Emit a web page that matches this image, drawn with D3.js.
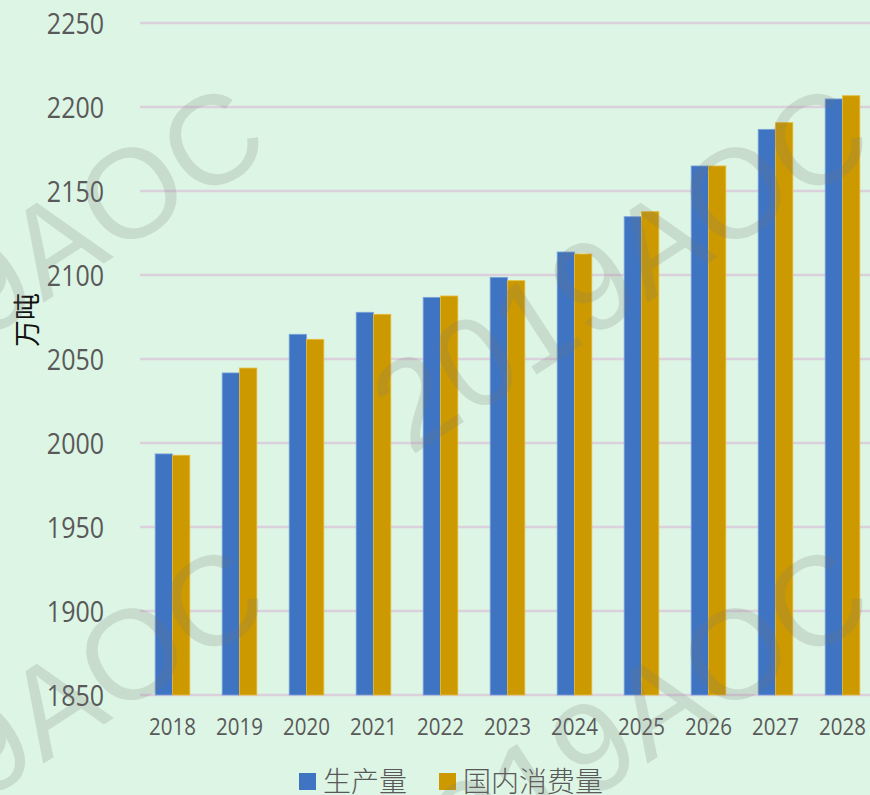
<!DOCTYPE html>
<html>
<head>
<meta charset="utf-8">
<script src="https://cdn.jsdelivr.net/npm/d3@7"></script>
<style>
  body { margin: 0; background: #ddf5e4; }
</style>
</head>
<body>
<script>
// Données du graphique
const annees = ["2018", "2019", "2020", "2021", "2022", "2023", "2024", "2025", "2026", "2027", "2028"]
const production = [1993.5, 2041.7, 2064.7, 2077.8, 2086.7, 2098.6, 2113.7, 2134.7, 2164.9, 2186.7, 2204.8]
const consommation = [1992.7, 2044.6, 2061.7, 2076.6, 2087.5, 2096.6, 2112.5, 2137.7, 2164.9, 2190.7, 2206.7]
const graduations = [1850, 1900, 1950, 2000, 2050, 2100, 2150, 2200, 2250]
const series = ["生产量", "国内消费量"]
const couleurs = ["#3e74c2", "#cc9a00"]
const bordures = ["#7aa3dc", "#e6bb3a"]

//Création du canva SVG
let svg = d3.select("body")
    .append("svg")
    .attr("width", 870)
    .attr("height", 795)
    .style("background-color", "#ddf5e4")
    .style("display", "block")

//Echelles
const x0 = d3.scaleBand()
    .domain(annees)
    .range([139, 876])
    .paddingInner(0.483)
    .paddingOuter(0.2415)

const x1 = d3.scaleBand()
    .domain([0, 1])
    .range([0, x0.bandwidth()])

const y = d3.scaleLinear()
    .domain([1850, 2250])
    .range([695, 23])

//Lignes de la grille
svg.append("g")
    .selectAll("line")
    .data(graduations)
    .enter()
    .append("line")
    .attr("x1", 140)
    .attr("x2", 870)
    .attr("y1", d => y(d))
    .attr("y2", d => y(d))
    .attr("stroke", "#dad1dc")
    .attr("stroke-width", 2.5)

//Axe des ordonnées (labels seulement), texte un peu étiré en hauteur
const axeY = svg.append("g")
    .attr("transform", "translate(104,0)")
    .call(d3.axisLeft(y).tickValues(graduations).tickFormat(d3.format("d")).tickSize(0).tickPadding(0))
axeY.select(".domain").remove()
axeY.selectAll("text")
    .attr("fill", "#595959")
    .attr("dy", "0.36em")
    .attr("transform", "scale(1,1.13)")
    .style("font-family", "'Open Sans', sans-serif")
    .style("font-size", "25px")

//Axe des abscisses
const axeX = svg.append("g")
    .attr("transform", "translate(0,695)")
    .call(d3.axisBottom(x0).tickSize(0).tickPadding(21))
axeX.select(".domain").remove()
axeX.selectAll("text")
    .attr("fill", "#595959")
    .attr("transform", "scale(1,1.13)")
    .style("font-family", "'Open Sans', sans-serif")
    .style("font-size", "20.5px")

//Titre de l'axe Y
svg.append("text")
    .attr("transform", "translate(37,320) rotate(-90)")
    .attr("text-anchor", "middle")
    .attr("fill", "#111")
    .style("font-family", "'Noto Sans CJK SC', sans-serif")
    .style("font-size", "27px")
    .text("万吨")

//Barres
const lignes = annees.map((a, i) => ({ annee: a, valeurs: [production[i], consommation[i]] }))

const groupes = svg.append("g")
    .selectAll("g")
    .data(lignes)
    .enter()
    .append("g")
    .attr("transform", d => `translate(${x0(d.annee)},0)`)

groupes.selectAll("rect")
    .data(d => d.valeurs.map((v, k) => ({ k: k, v: v })))
    .enter()
    .append("rect")
    .attr("x", d => x1(d.k))
    .attr("y", d => y(d.v))
    .attr("width", x1.bandwidth())
    .attr("height", d => y(1850) - y(d.v))
    .attr("fill", d => couleurs[d.k])
    .attr("stroke", d => bordures[d.k])
    .attr("stroke-width", 0.8)

//Légende
const legende = svg.append("g")
const posLegende = [299, 439]
series.forEach((s, i) => {
    legende.append("rect")
        .attr("x", posLegende[i])
        .attr("y", 773)
        .attr("width", 17)
        .attr("height", 17)
        .attr("fill", couleurs[i])
    legende.append("text")
        .attr("x", posLegende[i] + 24)
        .attr("y", 792)
        .attr("fill", "#595959")
        .style("font-family", "'Noto Sans CJK SC', sans-serif")
        .style("font-size", "28px")
        .style("font-weight", "300")
        .text(s)
})

//Filigrane "2019AOC" répété
const filigrane = svg.append("g")
    .attr("pointer-events", "none")
const centres = []
for (let i = -1; i <= 1; i++) {
    for (let j = -1; j <= 1; j++) {
        centres.push([620 + i * 604, 268 + j * 461])
    }
}
filigrane.selectAll("text")
    .data(centres)
    .enter()
    .append("text")
    .attr("transform", d => `translate(${d[0]},${d[1]}) rotate(-33)`)
    .attr("text-anchor", "middle")
    .attr("dominant-baseline", "central")
    .attr("fill", "rgba(120,120,120,0.2)")
    .style("font-family", "'Liberation Sans', sans-serif")
    .style("font-size", "127px")
    .text("2019AOC")
</script>
</body>
</html>
